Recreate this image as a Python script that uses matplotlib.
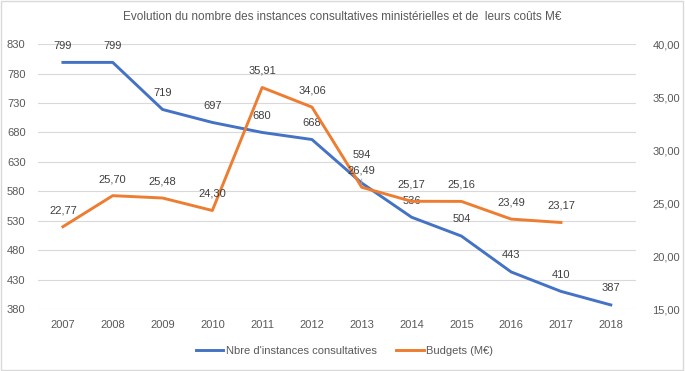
import matplotlib
matplotlib.use("Agg")
import matplotlib.pyplot as plt
from matplotlib.patches import Rectangle

years = ["2007", "2008", "2009", "2010", "2011", "2012", "2013", "2014", "2015", "2016", "2017", "2018"]
instances = [799, 799, 719, 697, 680, 668, 594, 536, 504, 443, 410, 387]
budget_years = years[:11]
budgets = [22.77, 25.70, 25.48, 24.30, 35.91, 34.06, 26.49, 25.17, 25.16, 23.49, 23.17]
left_ticks = list(range(380, 831, 50))
right_ticks = [15, 20, 25, 30, 35, 40]

title = "Evolution du nombre des instances consultatives ministérielles et de  leurs coûts M€"
label_inst = "Nbre d'instances consultatives"
label_budg = "Budgets (M€)"

plt.rcParams['font.family'] = ['Liberation Sans', 'DejaVu Sans']

BLUE = "#4472C4"
ORANGE = "#ED7D31"
TXT = "#595959"
LBL = "#404040"
GRID = "#D9D9D9"
FS = 8

fig = plt.figure(figsize=(6.85, 3.71), dpi=100)
ax = fig.add_axes([0.0555, 0.167, 0.8725, 0.714])
ax2 = ax.twinx()

x = list(range(len(years)))
xb = list(range(len(budget_years)))

ax.plot(x, instances, color=BLUE, lw=2.1, solid_joinstyle='round', zorder=3)
ax2.plot(xb, budgets, color=ORANGE, lw=2.1, solid_joinstyle='round', zorder=3)

ax.set_xlim(-0.5, len(years) - 0.5)
ax.set_ylim(380, 830)
ax2.set_ylim(15, 40)
ax.set_yticks(left_ticks)
ax2.set_yticks(right_ticks)
ax2.set_yticklabels([f"{v:.2f}".replace('.', ',') for v in right_ticks])
ax.set_xticks(x)
ax.set_xticklabels(years)

for a in (ax, ax2):
    for s in a.spines.values():
        s.set_visible(False)
    a.tick_params(length=0, colors=TXT, labelsize=FS)
ax.tick_params(axis='x', pad=8)
ax.tick_params(axis='y', pad=9)
ax2.tick_params(axis='y', pad=12)
ax.grid(axis='y', color=GRID, lw=0.8)
ax.set_axisbelow(True)

for i, v in enumerate(instances):
    off = 20 if years[i] == "2013" else 12
    ax.annotate(str(v), (i, v), xytext=(0, off), textcoords='offset points',
                ha='center', va='center', fontsize=FS, color=LBL)
for i, v in enumerate(budgets):
    s = f"{v:.2f}".replace('.', ',')
    ax2.annotate(s, (i, v), xytext=(0, 12), textcoords='offset points',
                 ha='center', va='center', fontsize=FS, color=LBL)
    if budget_years[i] == "2013":
        ax2.annotate("", (i, v), xytext=(0, 8), textcoords='offset points',
                     arrowprops=dict(arrowstyle='-', color='#A6A6A6', lw=0.6))

fig.text(0.5, 0.955, title, ha='center', va='center', fontsize=8.5, color=TXT)

h1, = ax.plot([], [], color=BLUE, lw=2.1)
h2, = ax.plot([], [], color=ORANGE, lw=2.1)
fig.legend([h1, h2], [label_inst, label_budg], loc='center', bbox_to_anchor=(0.503, 0.054),
           ncol=2, frameon=False, fontsize=FS, labelcolor=TXT, handlelength=2.5,
           handletextpad=0.2, columnspacing=1.8)

fig.patches.append(Rectangle((0.002, 0.003), 0.995, 0.993, transform=fig.transFigure,
                             fill=False, edgecolor=GRID, lw=1))

fig.savefig("out.png", dpi=100)
